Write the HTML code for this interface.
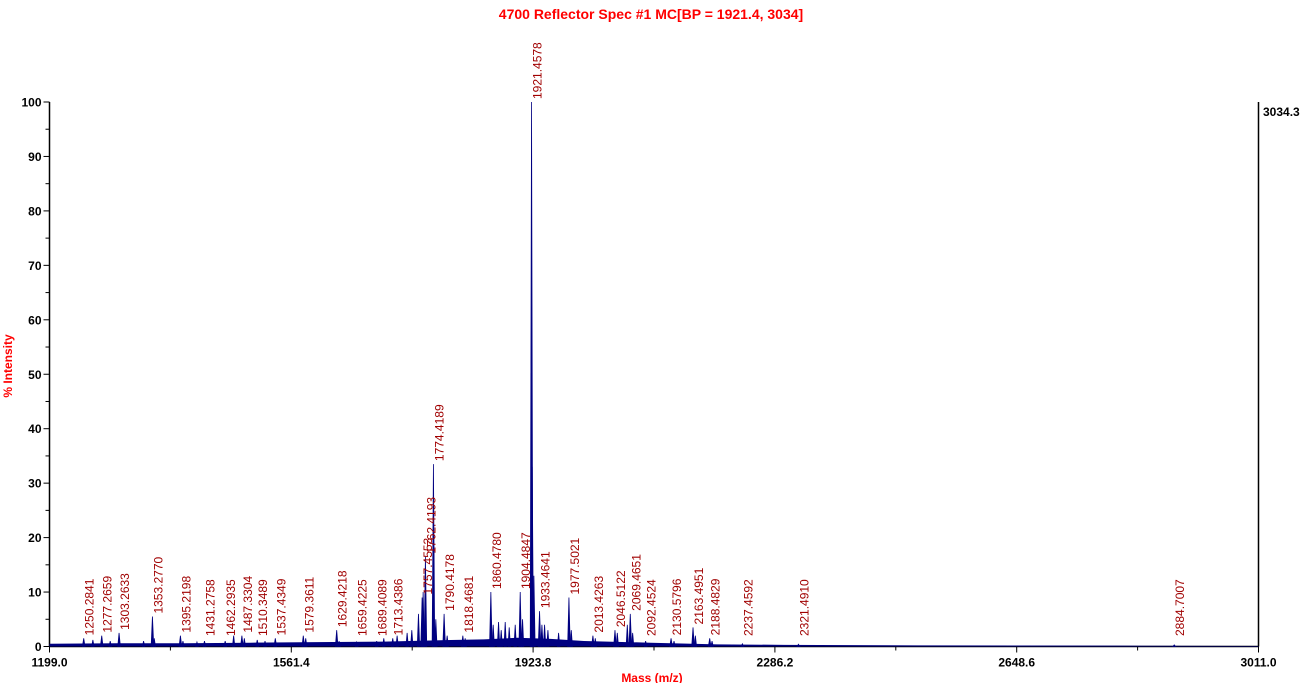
<!DOCTYPE html>
<html><head><meta charset="utf-8"><style>
body{margin:0;background:#fff;}
svg{display:block;font-family:"Liberation Sans",Arial,sans-serif;}
</style></head><body>
<svg id="chart" width="1301" height="683" viewBox="0 0 1301 683" xmlns="http://www.w3.org/2000/svg">
<text x="651" y="19" text-anchor="middle" font-size="14" font-weight="bold" fill="#ff0000">4700 Reflector Spec #1 MC[BP = 1921.4, 3034]</text>
<text transform="translate(12,366) rotate(-90)" text-anchor="middle" font-size="12" font-weight="bold" fill="#ff0000">% Intensity</text>
<text x="652" y="682" text-anchor="middle" font-size="12" font-weight="bold" fill="#ff0000">Mass (m/z)</text>
<text x="1263" y="116" font-size="12" font-weight="bold" fill="#000">3034.3</text>
<g id="axes"></g><g id="noise"></g><g id="peaks"></g><g id="labels"></g>
</svg>
<script>
const labeledMasses=[1250.2841,1277.2659,1303.2633,1353.2770,1395.2198,1431.2758,1462.2935,1487.3304,1510.3489,1537.4349,1579.3611,1629.4218,1659.4225,1689.4089,1713.4386,1757.4553,1762.4193,1774.4189,1790.4178,1818.4681,1860.4780,1904.4847,1921.4578,1933.4641,1977.5021,2013.4263,2046.5122,2069.4651,2092.4524,2130.5796,2163.4951,2188.4829,2237.4592,2321.4910,2884.7007];
const labeledIntensity=[1.5,2,2.5,5.5,2,1,1,2,1.2,1.5,2,3,0.8,1,1.5,9,16.5,33.5,6,2,10,10,100,6.5,9,2,3,6,1,1.5,3.5,1.5,0.5,0.4,0.3];
const extraMasses=[1264,1290,1340,1356,1399,1420,1475,1491,1522,1583,1633,1700,1720,1735,1742,1752,1759,1778,1795,1822,1864,1872,1876,1882,1888,1897,1908,1922.5,1925,1937,1941,1946,1962,1981,2017,2050,2065,2073,2135,2167,2192];
const extraIntensity=[1.2,1,1,1.5,1,0.8,2,1.5,1,1.5,1,1.5,2,2.5,3,6,10,5,2,1.5,4,4.5,3,4.5,3.5,4,5,33,13,4,4,3,2.5,3,1.5,2.5,4,2.5,1,2,1];
const noiseMasses=[1199,1300,1400,1500,1600,1700,1800,1850,1900,1950,2000,2100,2200,2300,2500,2800,3011];
const noiseLevel=[0.5,0.6,0.6,0.7,0.8,0.9,1.2,1.3,1.6,1.4,1.0,0.7,0.4,0.3,0.2,0.15,0.1];
const xTicks=[1199.0,1561.4,1923.8,2286.2,2648.6,3011.0];
const yTicks=[0,10,20,30,40,50,60,70,80,90,100];

const NS="http://www.w3.org/2000/svg";
const X0=49.5,X1=1258.5,Y0=646.5,Y1=102;
const xs=m=>X0+(m-1199)/(3011-1199)*(X1-X0);
const ys=v=>Y0-v/100*(Y0-Y1);
function mk(tag,attrs,parent){const e=document.createElementNS(NS,tag);for(const k in attrs)e.setAttribute(k,attrs[k]);document.getElementById(parent).appendChild(e);return e;}

let e;
e=mk('line',{x1:X0,y1:Y1,x2:X0,y2:Y0,stroke:'#000','stroke-width':1.5},'axes');


e=mk('line',{x1:X0,y1:Y0,x2:X1,y2:Y0,stroke:'#000','stroke-width':1.5},'axes');


e=mk('line',{x1:X1,y1:Y1,x2:X1,y2:Y0,stroke:'#000','stroke-width':1.5},'axes');


yTicks.forEach((t,i)=>{
  const y=ys(t);
  mk('line',{x1:X0-6,y1:y,x2:X0,y2:y,stroke:'#000'},'axes');
  if(i<yTicks.length-1){mk('line',{x1:X0-4,y1:ys(t+5),x2:X0,y2:ys(t+5),stroke:'#000'},'axes');}
  const tx=mk('text',{x:X0-8,y:y+4.5,'text-anchor':'end','font-size':12,'font-weight':'bold'},'axes');
  tx.textContent=t;
  
  
});
xTicks.forEach((t,i)=>{
  const x=xs(t);
  mk('line',{x1:x,y1:Y0,x2:x,y2:Y0+6,stroke:'#000'},'axes');
  if(i<xTicks.length-1){const xm=xs((t+xTicks[i+1])/2);mk('line',{x1:xm,y1:Y0,x2:xm,y2:Y0+4,stroke:'#000'},'axes');}
  const tx=mk('text',{x:x,y:Y0+20,'text-anchor':'middle','font-size':12,'font-weight':'bold'},'axes');
  tx.textContent=t.toFixed(1);
  
  
});
// noise baseline
let pts=[];
for(let i=0;i<noiseMasses.length;i++)pts.push(xs(noiseMasses[i])+','+ys(noiseLevel[i]));
e=mk('polygon',{points:xs(1199)+','+Y0+' '+pts.join(' ')+' '+xs(3011)+','+Y0,fill:'#000080'},'noise');


function peak(m,v,w){
  const x=xs(m);
  return mk('polygon',{points:(x-w)+','+Y0+' '+x+','+ys(v)+' '+(x+w)+','+Y0,fill:'#000080',stroke:'#000080','stroke-width':0.8},'peaks');
}
extraMasses.forEach((m,i)=>{
  e=peak(m,extraIntensity[i],1.2);
  
  
});
labeledMasses.forEach((m,i)=>{
  const v=labeledIntensity[i];
  e=peak(m,v,1.3);
  
  
  const yb=Math.min(ys(v)-3,636);
  const tx=mk('text',{transform:'translate('+(xs(m)+10)+','+yb+') rotate(-90)','font-size':12,fill:'#a00000'},'labels');
  tx.textContent=m.toFixed(4);
  
  
});
</script>
</body></html>
